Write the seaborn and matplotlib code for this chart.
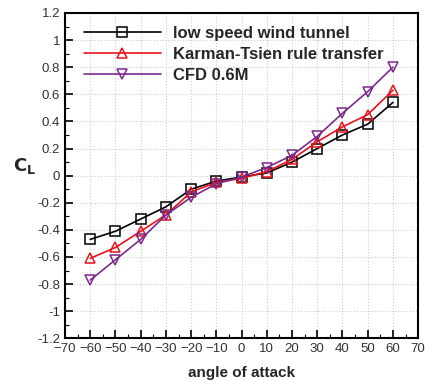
import pandas as pd
import seaborn as sns
import numpy as np
import matplotlib.pyplot as plt
from matplotlib.ticker import MultipleLocator

angle = [-60, -50, -40, -30, -20, -10, 0, 10, 20, 30, 40, 50, 60]
wind_tunnel = [-0.47, -0.41, -0.32, -0.23, -0.10, -0.04, -0.01, 0.02, 0.10, 0.20, 0.30, 0.38, 0.54]
karman_tsien = [-0.61, -0.53, -0.41, -0.29, -0.12, -0.05, -0.02, 0.03, 0.12, 0.25, 0.36, 0.45, 0.63]
cfd = [-0.77, -0.62, -0.47, -0.29, -0.16, -0.06, -0.01, 0.06, 0.15, 0.29, 0.46, 0.62, 0.80]
yticks = [-1.2, -1, -0.8, -0.6, -0.4, -0.2, 0, 0.2, 0.4, 0.6, 0.8, 1, 1.2]

names = ["low speed wind tunnel", "Karman-Tsien rule transfer", "CFD 0.6M"]
df = pd.DataFrame({"angle": angle * 3,
                   "CL": wind_tunnel + karman_tsien + cfd,
                   "case": np.repeat(names, len(angle))})

sns.set_style("ticks")
plt.rcParams['font.family'] = ['Liberation Sans', 'DejaVu Sans']

fig, ax = plt.subplots(figsize=(4.28, 3.81), dpi=100)
fig.subplots_adjust(left=0.152, right=0.977, top=0.966, bottom=0.112)

colors = {"low speed wind tunnel": "black", "Karman-Tsien rule transfer": "#e8141c", "CFD 0.6M": "#7b2a8c"}
markers = {"low speed wind tunnel": "s", "Karman-Tsien rule transfer": "^", "CFD 0.6M": "v"}
sns.lineplot(data=df, x="angle", y="CL", hue="case", style="case", palette=colors,
             markers=markers, dashes=False, markersize=7, markerfacecolor="none",
             markeredgewidth=1.1, linewidth=1.2, ax=ax)
for line in ax.lines:
    line.set_markerfacecolor("none")
    line.set_markeredgecolor(line.get_color())

ax.set_xlim(-70, 70)
ax.set_ylim(-1.2, 1.2)
ax.xaxis.set_major_locator(MultipleLocator(10))
ax.xaxis.set_minor_locator(MultipleLocator(5))
ax.set_yticks(yticks)
ax.set_yticklabels(["%g" % v for v in yticks])
ax.yaxis.set_minor_locator(MultipleLocator(0.1))
ax.tick_params(which="both", direction="in", top=False, right=False, labelsize=9.5, colors="#333333")
ax.tick_params(which="major", length=6, width=1.2, color="black")
ax.tick_params(which="minor", length=3, width=0.8, color="black")
ax.grid(True, which="major", linestyle=":", color="#cccccc", linewidth=0.8)
for s in ax.spines.values():
    s.set_linewidth(1.5)
    s.set_color("black")

ax.set_xlabel("angle of attack", fontsize=11, fontweight="bold", labelpad=8)
ax.set_ylabel(r"$\mathbf{C_L}$", fontsize=13, rotation=0)
ax.yaxis.set_label_coords(-0.115, 0.50)

leg = ax.legend(loc="upper left", frameon=False, fontsize=12, handlelength=4.6,
                handletextpad=0.75, labelspacing=0.35, borderaxespad=0.0,
                bbox_to_anchor=(0.035, 0.98))
for t in leg.get_texts():
    t.set_fontweight("bold")

plt.savefig("out.png", dpi=100)
